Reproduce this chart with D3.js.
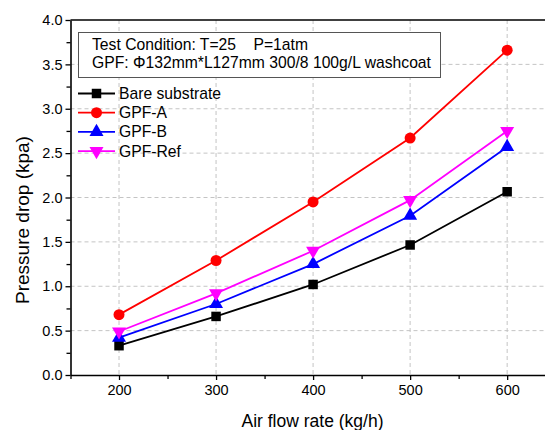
<!DOCTYPE html>
<html>
<head>
<meta charset="utf-8">
<script src="https://cdn.jsdelivr.net/npm/d3@7"></script>
<style>
  body { margin: 0; background: #fff; }
  svg { font-family: "Liberation Sans", Arial, sans-serif; }
  text { white-space: pre; }
</style>
</head>
<body>
<div id="chart"></div>
<script>
// data
let flowRates = [200, 300, 400, 500, 600];
let bareValues = [0.33, 0.66, 1.02, 1.465, 2.065];
let gpfAValues = [0.68, 1.29, 1.95, 2.67, 3.66];
let gpfBValues = [0.42, 0.80, 1.25, 1.795, 2.57];
let gpfRefValues = [0.49, 0.92, 1.40, 1.97, 2.75];
let seriesNames = ["Bare substrate", "GPF-A", "GPF-B", "GPF-Ref"];
let xTicks = [200, 300, 400, 500, 600];
let yTicks = [0.0, 0.5, 1.0, 1.5, 2.0, 2.5, 3.0, 3.5, 4.0];
let noteLines = ["Test Condition: T=25    P=1atm", "GPF: \u03a6132mm*L127mm 300/8 100g/L washcoat"];

let W = 545, H = 430;
let margin = {top: 20, right: 0, bottom: 55, left: 70.5};
let width = W - margin.left - margin.right;
let height = H - margin.top - margin.bottom;

let svg = d3.select("#chart").append("svg")
    .attr("width", W)
    .attr("height", H);

let g = svg.append("g")
    .attr("transform", "translate(" + margin.left + "," + margin.top + ")");

let x = d3.scaleLinear().domain([150, 639]).range([0, width]);
let y = d3.scaleLinear().domain([0, 4]).range([height, 0]);

// grid
g.append("g").selectAll("line").data(xTicks).join("line")
    .attr("x1", d => x(d)).attr("x2", d => x(d))
    .attr("y1", 0).attr("y2", height)
    .attr("stroke", "#c4c4c4").attr("stroke-dasharray", "4,3");
g.append("g").selectAll("line").data(yTicks.slice(1, -1)).join("line")
    .attr("x1", 0).attr("x2", width)
    .attr("y1", d => y(d)).attr("y2", d => y(d))
    .attr("stroke", "#c4c4c4").attr("stroke-dasharray", "4,3");

// axes
let xAxis = g.append("g")
    .attr("transform", "translate(0," + height + ")")
    .call(d3.axisBottom(x).tickValues(xTicks).tickSize(5).tickSizeOuter(0).tickPadding(5));
let xMinor = g.append("g")
    .attr("transform", "translate(0," + height + ")")
    .call(d3.axisBottom(x).tickValues([150, 250, 350, 450, 550]).tickSize(4).tickFormat(""));
xMinor.select(".domain").remove();

let yAxis = g.append("g")
    .call(d3.axisLeft(y).tickValues(yTicks).tickFormat(d3.format(".1f")).tickSize(5).tickSizeOuter(0).tickPadding(3));
let yMinor = g.append("g")
    .call(d3.axisLeft(y).tickValues(d3.range(0.25, 4, 0.5)).tickSize(4).tickFormat(""));
yMinor.select(".domain").remove();

[xAxis, yAxis, xMinor, yMinor].forEach(function (a) {
    a.selectAll(".domain").attr("stroke", "#000").attr("stroke-width", 1.6);
    a.selectAll(".tick line").attr("stroke", "#000").attr("stroke-width", 1.3);
    a.selectAll(".tick text").attr("font-size", 14.5).attr("fill", "#000")
        .attr("font-family", "Liberation Sans, Arial, sans-serif");
});

// top frame line
g.append("line")
    .attr("x1", 0).attr("x2", width).attr("y1", 0).attr("y2", 0)
    .attr("stroke", "#000").attr("stroke-width", 1.6);

// axis titles
svg.append("text")
    .attr("x", 312.5).attr("y", 427)
    .attr("text-anchor", "middle").attr("font-size", 17.5)
    .text("Air flow rate (kg/h)");
svg.append("text")
    .attr("transform", "translate(29," + 220 + ") rotate(-90)")
    .attr("text-anchor", "middle").attr("font-size", 19)
    .text("Pressure drop (kpa)");

// series
let series = [
    {name: seriesNames[0], values: bareValues, color: "#000000", symbol: d3.symbolSquare, size: 90, rot: 0},
    {name: seriesNames[1], values: gpfAValues, color: "#ff0000", symbol: d3.symbolCircle, size: 95, rot: 0},
    {name: seriesNames[2], values: gpfBValues, color: "#0000ff", symbol: d3.symbolTriangle, size: 85, rot: 0},
    {name: seriesNames[3], values: gpfRefValues, color: "#ff00ff", symbol: d3.symbolTriangle, size: 85, rot: 180}
];

let line = d3.line()
    .x(function (d) { return x(d[0]); })
    .y(function (d) { return y(d[1]); });

series.forEach(function (s) {
    let pts = flowRates.map((f, i) => [f, s.values[i]]);
    g.append("path")
        .datum(pts)
        .attr("fill", "none")
        .attr("stroke", s.color)
        .attr("stroke-width", 1.8)
        .attr("d", line);
    g.append("g").selectAll("path").data(pts).join("path")
        .attr("d", d3.symbol().type(s.symbol).size(s.size))
        .attr("transform", d => "translate(" + x(d[0]) + "," + y(d[1]) + ") rotate(" + s.rot + ")")
        .attr("fill", s.color);
});

// note box
let note = svg.append("g");
note.append("rect")
    .attr("x", 78.5).attr("y", 32.5).attr("width", 362).attr("height", 45)
    .attr("fill", "#fff").attr("stroke", "#555").attr("stroke-width", 1);
note.selectAll("text").data(noteLines).join("text")
    .attr("x", 92).attr("y", (d, i) => 49.5 + i * 18.5)
    .attr("font-size", 15.7)
    .text(d => d);

// legend
let legend = svg.append("g");
series.forEach(function (s, i) {
    let ly = 93.5 + i * 19.2;
    legend.append("line")
        .attr("x1", 78).attr("x2", 115).attr("y1", ly).attr("y2", ly)
        .attr("stroke", s.color).attr("stroke-width", 1.8);
    legend.append("path")
        .attr("d", d3.symbol().type(s.symbol).size(s.size)())
        .attr("transform", "translate(96.5," + ly + ") rotate(" + s.rot + ")")
        .attr("fill", s.color);
    legend.append("text")
        .attr("x", 119).attr("y", ly + 5.5)
        .attr("font-size", 15.7)
        .text(s.name);
});
</script>
</body>
</html>
